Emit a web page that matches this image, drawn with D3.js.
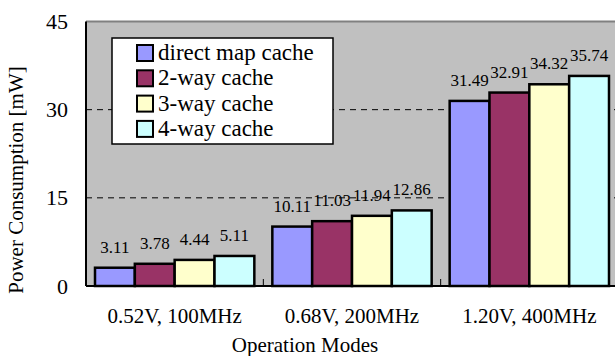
<!DOCTYPE html>
<html>
<head>
<meta charset="utf-8">
<script src="https://cdn.jsdelivr.net/npm/d3@7"></script>
<style>
body { margin: 0; background: #fff; }
svg text { font-family: 'Liberation Serif', serif; fill: #000; }
</style>
</head>
<body>
<script>
// chart size
var W = 615, H = 356;

// data
var modes = ["0.52V, 100MHz", "0.68V, 200MHz", "1.20V, 400MHz"];
var series = ["direct map cache", "2-way cache", "3-way cache", "4-way cache"];
var directMap = [3.11, 10.11, 31.49];
var twoWay = [3.78, 11.03, 32.91];
var threeWay = [4.44, 11.94, 34.32];
var fourWay = [5.11, 12.86, 35.74];
var yTicks = [0, 15, 30, 45];
var colors = ["#9999FF", "#993366", "#FFFFCC", "#CCFFFF"];

var values = [directMap, twoWay, threeWay, fourWay];

// plot edges (not called "top" - that one is window.top)
var plotL = 86, plotR = 618, plotT = 21.5, plotB = 286;
var serif = "'Liberation Serif', serif";

var svg = d3.select("body").append("svg")
	.attr("width", W)
	.attr("height", H);

var x0 = d3.scaleBand().domain(modes).range([plotL, plotR]);
var x1 = d3.scaleBand().domain(series).range([9, x0.bandwidth() - 9]);
var y = d3.scaleLinear().domain([0, 45]).range([plotB, plotT]);
var color = d3.scaleOrdinal().domain(series).range(colors);

// grey plot background
svg.append("rect")
	.attr("x", plotL).attr("y", plotT)
	.attr("width", plotR - plotL).attr("height", plotB - plotT)
	.style("fill", "#C0C0C0");

// top border (grey)
svg.append("line")
	.attr("x1", plotL).attr("x2", plotR)
	.attr("y1", plotT).attr("y2", plotT)
	.style("stroke", "#808080").style("stroke-width", 2);

// dashed gridlines
svg.selectAll(".grid")
	.data(yTicks.filter(function(d){return d > 0 && d < 45}))
	.enter().append("line")
	.attr("x1", plotL).attr("x2", plotR)
	.attr("y1", function(d){return y(d)})
	.attr("y2", function(d){return y(d)})
	.style("stroke", "#000")
	.style("stroke-width", 1)
	.style("stroke-dasharray", "6,5");

// bars
var groups = svg.selectAll(".grp")
	.data(modes)
	.enter().append("g")
	.attr("transform", function(d){return "translate(" + x0(d) + ",0)"});

groups.selectAll("rect")
	.data(function(d, i){return series.map(function(s, j){return {s: s, v: values[j][i]}})})
	.enter().append("rect")
	.attr("x", function(d){return x1(d.s)})
	.attr("y", function(d){return y(d.v)})
	.attr("width", x1.bandwidth())
	.attr("height", function(d){return plotB - y(d.v)})
	.style("fill", function(d){return color(d.s)})
	.style("stroke", "#000")
	.style("stroke-width", 2.5);

groups.selectAll(".val")
	.data(function(d, i){return series.map(function(s, j){return {s: s, v: values[j][i]}})})
	.enter().append("text")
	.attr("x", function(d){return x1(d.s) + x1.bandwidth()/2})
	.attr("y", function(d){return y(d.v) - 15})
	.attr("text-anchor", "middle")
	.style("font-family", serif)
	.style("font-size", "17px")
	.text(function(d){return d.v.toFixed(2)});

// left axis line
svg.append("line")
	.attr("x1", plotL).attr("x2", plotL)
	.attr("y1", plotT).attr("y2", plotB)
	.style("stroke", "#000").style("stroke-width", 2);

// y axis labels
var yAxis = d3.axisLeft(y).tickValues(yTicks).tickSize(0).tickPadding(18);
var ya = svg.append("g").attr("transform", "translate(" + plotL + ",0)").call(yAxis);
ya.select(".domain").remove();
ya.selectAll("text")
	.style("font-family", serif)
	.style("font-size", "22px");

// bottom axis
var xAxis = d3.axisBottom(x0).tickSize(0).tickPadding(22);
var xa = svg.append("g").attr("transform", "translate(0," + plotB + ")").call(xAxis);
xa.select(".domain").remove();
xa.selectAll("text")
	.style("font-family", serif)
	.style("font-size", "21px");

svg.append("line")
	.attr("x1", plotL).attr("x2", plotR)
	.attr("y1", plotB).attr("y2", plotB)
	.style("stroke", "#000").style("stroke-width", 2);

// small inner ticks between groups
svg.selectAll(".ctick")
	.data(modes.slice(1))
	.enter().append("line")
	.attr("x1", function(d){return x0(d)})
	.attr("x2", function(d){return x0(d)})
	.attr("y1", plotB).attr("y2", plotB - 7)
	.style("stroke", "#000").style("stroke-width", 1);

// axis titles
svg.append("text")
	.attr("transform", "translate(23,180) rotate(-90)")
	.attr("text-anchor", "middle")
	.style("font-family", serif)
	.style("font-size", "21px")
	.text("Power Consumption [mW]");

svg.append("text")
	.attr("x", 305).attr("y", 352)
	.attr("text-anchor", "middle")
	.style("font-family", serif)
	.style("font-size", "21px")
	.text("Operation Modes");

// legend
var legend = svg.append("g");
legend.append("rect")
	.attr("x", 112).attr("y", 38)
	.attr("width", 221).attr("height", 106)
	.style("fill", "#fff")
	.style("stroke", "#000")
	.style("stroke-width", 1.5);

var items = legend.selectAll(".item")
	.data(series)
	.enter().append("g")
	.attr("transform", function(d, i){return "translate(137," + (53 + i*25.3) + ")"});

items.append("rect")
	.attr("x", 0).attr("y", -8)
	.attr("width", 16).attr("height", 16)
	.style("fill", function(d){return color(d)})
	.style("stroke", "#000")
	.style("stroke-width", 2);

items.append("text")
	.attr("x", 21).attr("y", 7)
	.style("font-family", serif)
	.style("font-size", "23px")
	.text(function(d){return d});
</script>
</body>
</html>
